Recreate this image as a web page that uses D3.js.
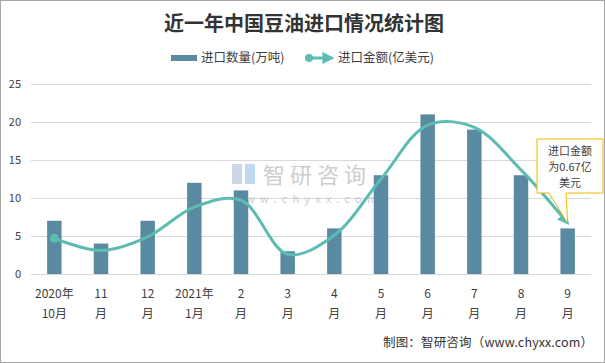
<!DOCTYPE html>
<html><head><meta charset="utf-8">
<script src="https://cdn.jsdelivr.net/npm/d3@7"></script>
<style>
body{margin:0;background:#fff;}
svg{display:block;font-family:"Noto Sans CJK SC","Microsoft YaHei",sans-serif;}
</style></head>
<body>
<svg id="c" width="605" height="363"></svg>
<script>
const categories = [["2020年","10月"],["11","月"],["12","月"],["2021年","1月"],["2","月"],["3","月"],["4","月"],["5","月"],["6","月"],["7","月"],["8","月"],["9","月"]];
const volume = [7, 4, 7, 12, 11, 3, 6, 13, 21, 19, 13, 6];      // 进口数量(万吨)
const amount = [0.47, 0.31, 0.49, 0.88, 0.97, 0.26, 0.51, 1.25, 1.96, 1.93, 1.37, 0.67]; // 进口金额(亿美元)
const yTicks = [0, 5, 10, 15, 20, 25];
const title = "近一年中国豆油进口情况统计图";
const legendLabels = ["进口数量(万吨)", "进口金额(亿美元)"];
const noteLines = ["进口金额", "为0.67亿", "美元"];

const svg = d3.select("#c");
const W = 605, H = 363;
const barColor = "#5a8aa2", lineColor = "#5cbcb1";

svg.append("rect").attr("x",0.5).attr("y",0.5).attr("width",W-1).attr("height",H-1)
  .attr("fill","#fff").attr("stroke","#a6a6a6");

const x = d3.scaleBand().domain(d3.range(categories.length)).range([31, 591]);
const y = d3.scaleLinear().domain([0, 25]).range([274, 84]);
const y2 = d3.scaleLinear().domain([0, 2.5]).range([274, 84]);

// title
svg.append("text").attr("x", 304).attr("y", 31).attr("text-anchor","middle")
  .attr("font-size", 20).attr("font-weight","bold").attr("fill","#333").text(title);

// gridlines
svg.append("g").selectAll("line").data(yTicks).join("line")
  .attr("x1", 31).attr("x2", 591).attr("y1", d=>Math.round(y(d))+0.5).attr("y2", d=>Math.round(y(d))+0.5)
  .attr("stroke","#d9d9d9").attr("stroke-width",1);

// y labels
svg.append("g").selectAll("text").data(yTicks).join("text")
  .attr("x", 21).attr("y", d=>y(d)+4).attr("text-anchor","end")
  .attr("font-size", 11).attr("fill","#404040").text(d=>d);

// watermark
const wm = svg.append("g").attr("opacity", 0.9);
wm.append("rect").attr("x",232).attr("y",164).attr("width",10).attr("height",20).attr("fill","#c9d3e6");
wm.append("rect").attr("x",245).attr("y",164).attr("width",10).attr("height",20).attr("fill","#b9d7ef");
wm.append("text").attr("x",263).attr("y",183).attr("font-size",22).attr("fill","#c8c8c8")
  .attr("letter-spacing", 5).text("智研咨询");
wm.append("text").attr("x",232).attr("y",203).attr("font-size",11).attr("fill","#c8c8c8")
  .attr("letter-spacing", 5.2).text("www.chyxx.com");

// bars
const bw = x.bandwidth() * 0.31;
svg.append("g").selectAll("rect").data(volume).join("rect")
  .attr("x", (d,i)=>x(i)+x.bandwidth()/2-bw/2).attr("width", bw)
  .attr("y", d=>y(d)).attr("height", d=>y(0)-y(d)).attr("fill", barColor);

// arrow marker
const defs = svg.append("defs");
defs.append("marker").attr("id","arr").attr("viewBox","0 0 10 10").attr("refX",8).attr("refY",5)
  .attr("markerWidth",4).attr("markerHeight",4).attr("orient","auto")
  .append("path").attr("d","M0,0 L10,5 L0,10 z").attr("fill",lineColor);

// line
const line = d3.line().x((d,i)=>x(i)+x.bandwidth()/2).y(d=>y2(d)).curve(d3.curveCatmullRom.alpha(0.5));
svg.append("path").datum(amount).attr("d", line).attr("fill","none")
  .attr("stroke", lineColor).attr("stroke-width", 3).attr("marker-end","url(#arr)");
svg.append("circle").attr("cx", x(0)+x.bandwidth()/2).attr("cy", y2(amount[0])).attr("r",4.5).attr("fill",lineColor);

// x labels
const xl = svg.append("g");
categories.forEach((c,i)=>{
  const cx = x(i)+x.bandwidth()/2;
  xl.append("text").attr("x",cx).attr("y",298).attr("text-anchor","middle").attr("font-size",12).attr("fill","#404040").text(c[0]);
  xl.append("text").attr("x",cx).attr("y",318).attr("text-anchor","middle").attr("font-size",12).attr("fill","#404040").text(c[1]);
});

// legend
const lg = svg.append("g");
lg.append("rect").attr("x",171).attr("y",55).attr("width",26).attr("height",6).attr("fill",barColor);
lg.append("text").attr("x",201).attr("y",62).attr("font-size",12.5).attr("fill","#404040").text(legendLabels[0]);
lg.append("line").attr("x1",309).attr("x2",332).attr("y1",58).attr("y2",58)
  .attr("stroke",lineColor).attr("stroke-width",3).attr("marker-end","url(#arr)");
lg.append("circle").attr("cx",309).attr("cy",58).attr("r",4).attr("fill",lineColor);
lg.append("text").attr("x",338).attr("y",62).attr("font-size",12.5).attr("fill","#404040").text(legendLabels[1]);

// callout
const tipX = x(11)+x.bandwidth()/2, tipY = y2(amount[11]);
const bx0 = 537, bx1 = 603, by0 = 139, by1 = 193;
svg.append("path")
  .attr("d", `M${bx0},${by0} H${bx1} V${by1} H${566} L${tipX},${tipY} L${549},${by1} H${bx0} Z`)
  .attr("fill","#fff").attr("stroke","#f2b700").attr("stroke-width",1);
noteLines.forEach((t,i)=>{
  svg.append("text").attr("x",570).attr("y",155+i*16).attr("text-anchor","middle")
    .attr("font-size",11).attr("fill","#404040").text(t);
});

// footer
svg.append("text").attr("x",383).attr("y",347)
  .attr("textLength",210).attr("lengthAdjust","spacing")
  .attr("font-size",12.5).attr("fill","#333").text("制图：智研咨询（www.chyxx.com）");
</script>
</body></html>
